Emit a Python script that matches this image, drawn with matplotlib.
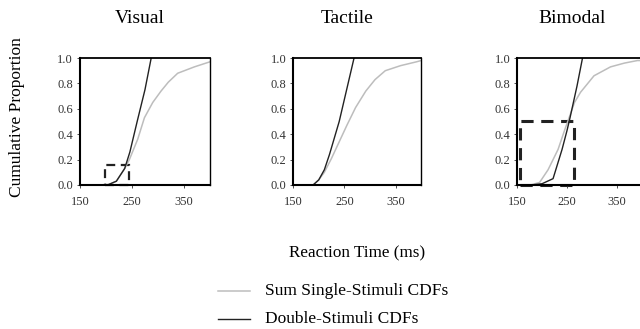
import matplotlib
matplotlib.use('Agg')
import matplotlib.pyplot as plt
from matplotlib.patches import Rectangle

plt.rcParams['font.family'] = ['Liberation Serif', 'DejaVu Serif']

## data
titles = ['Visual', 'Tactile', 'Bimodal']

# Sum Single-Stimuli CDFs (grey)
sum_rt = [
    [203, 220, 236, 245, 261, 274, 290, 306, 320, 338, 370, 400],
    [189, 200, 211, 225, 240, 255, 272, 292, 310, 330, 360, 391, 400],
    [177, 195, 212, 232, 245, 256, 265, 277, 304, 337, 365, 391, 400],
]
sum_p = [
    [0.0, 0.03, 0.13, 0.20, 0.36, 0.53, 0.65, 0.74, 0.81, 0.88, 0.93, 0.97],
    [0.0, 0.04, 0.10, 0.21, 0.34, 0.47, 0.61, 0.74, 0.83, 0.90, 0.94, 0.97, 0.98],
    [0.0, 0.02, 0.12, 0.28, 0.43, 0.55, 0.65, 0.73, 0.86, 0.93, 0.96, 0.98, 0.98],
]

# Double-Stimuli CDFs (black)
dbl_rt = [
    [203, 220, 236, 246, 260, 275, 287],
    [189, 200, 211, 221, 240, 269],
    [177, 200, 222, 240, 250, 256, 270, 281],
]
dbl_p = [
    [0.0, 0.03, 0.13, 0.26, 0.50, 0.75, 1.0],
    [0.0, 0.04, 0.12, 0.24, 0.50, 1.0],
    [0.0, 0.01, 0.05, 0.28, 0.43, 0.53, 0.78, 1.0],
]

# dashed boxes (x0, x1, top) - none on tactile
box_x0 = [199, None, 156]
box_x1 = [244, None, 264]
box_top = [0.16, None, 0.50]
box_lw = [1.6, None, 2.2]

## figure
fig = plt.figure(figsize=(6.4, 3.29), dpi=100)
lefts = [0.125, 0.458, 0.808]
widths = [0.203, 0.2, 0.195]
title_x = [140, 347, 572]

for i in range(3):
    ax = fig.add_axes([lefts[i], 0.4377, widths[i], 0.386])
    ax.plot(sum_rt[i], sum_p[i], color='#bdbdbd', lw=1.1)
    ax.plot(dbl_rt[i], dbl_p[i], color='#222222', lw=1.0)
    if box_x0[i] is not None:
        ax.add_patch(Rectangle((box_x0[i], 0), box_x1[i] - box_x0[i], box_top[i],
                               fill=False, ls=(0, (4, 2.5)), lw=box_lw[i], ec='#222222',
                               clip_on=False))
    ax.set_xlim(150, 400)
    ax.set_ylim(0, 1.0)
    ax.set_xticks([150, 250, 350])
    ax.set_yticks([0.0, 0.2, 0.4, 0.6, 0.8, 1.0])
    ax.set_yticklabels(['0.0', '0.2', '0.4', '0.6', '0.8', '1.0'])
    ax.tick_params(labelsize=9, length=2, width=0.6, colors='#333333')
    ax.tick_params(axis='x', pad=6)
    ax.tick_params(axis='y', pad=3)
    for s in ax.spines.values():
        s.set_linewidth(1.0)
    ax.spines['left'].set_linewidth(1.5)
    ax.spines['bottom'].set_linewidth(1.5)
    ax.spines['top'].set_linewidth(1.3)
    fig.text(title_x[i] / 640, 0.945, titles[i], ha='center', va='center', fontsize=14)

fig.text(0.026, 0.644, 'Cumulative Proportion', rotation=90, ha='center', va='center', fontsize=12.5)
fig.text(0.558, 0.231, 'Reaction Time (ms)', ha='center', va='center', fontsize=12.3)

# legend drawn by hand below
fig.add_artist(plt.Line2D([0.341, 0.391], [0.115, 0.115], color='#bdbdbd', lw=1.1))
fig.add_artist(plt.Line2D([0.341, 0.391], [0.03, 0.03], color='#222222', lw=1.0))
fig.text(0.414, 0.115, 'Sum Single-Stimuli CDFs', ha='left', va='center', fontsize=12.5)
fig.text(0.414, 0.03, 'Double-Stimuli CDFs', ha='left', va='center', fontsize=12.5)

fig.savefig('out.png', dpi=100)
